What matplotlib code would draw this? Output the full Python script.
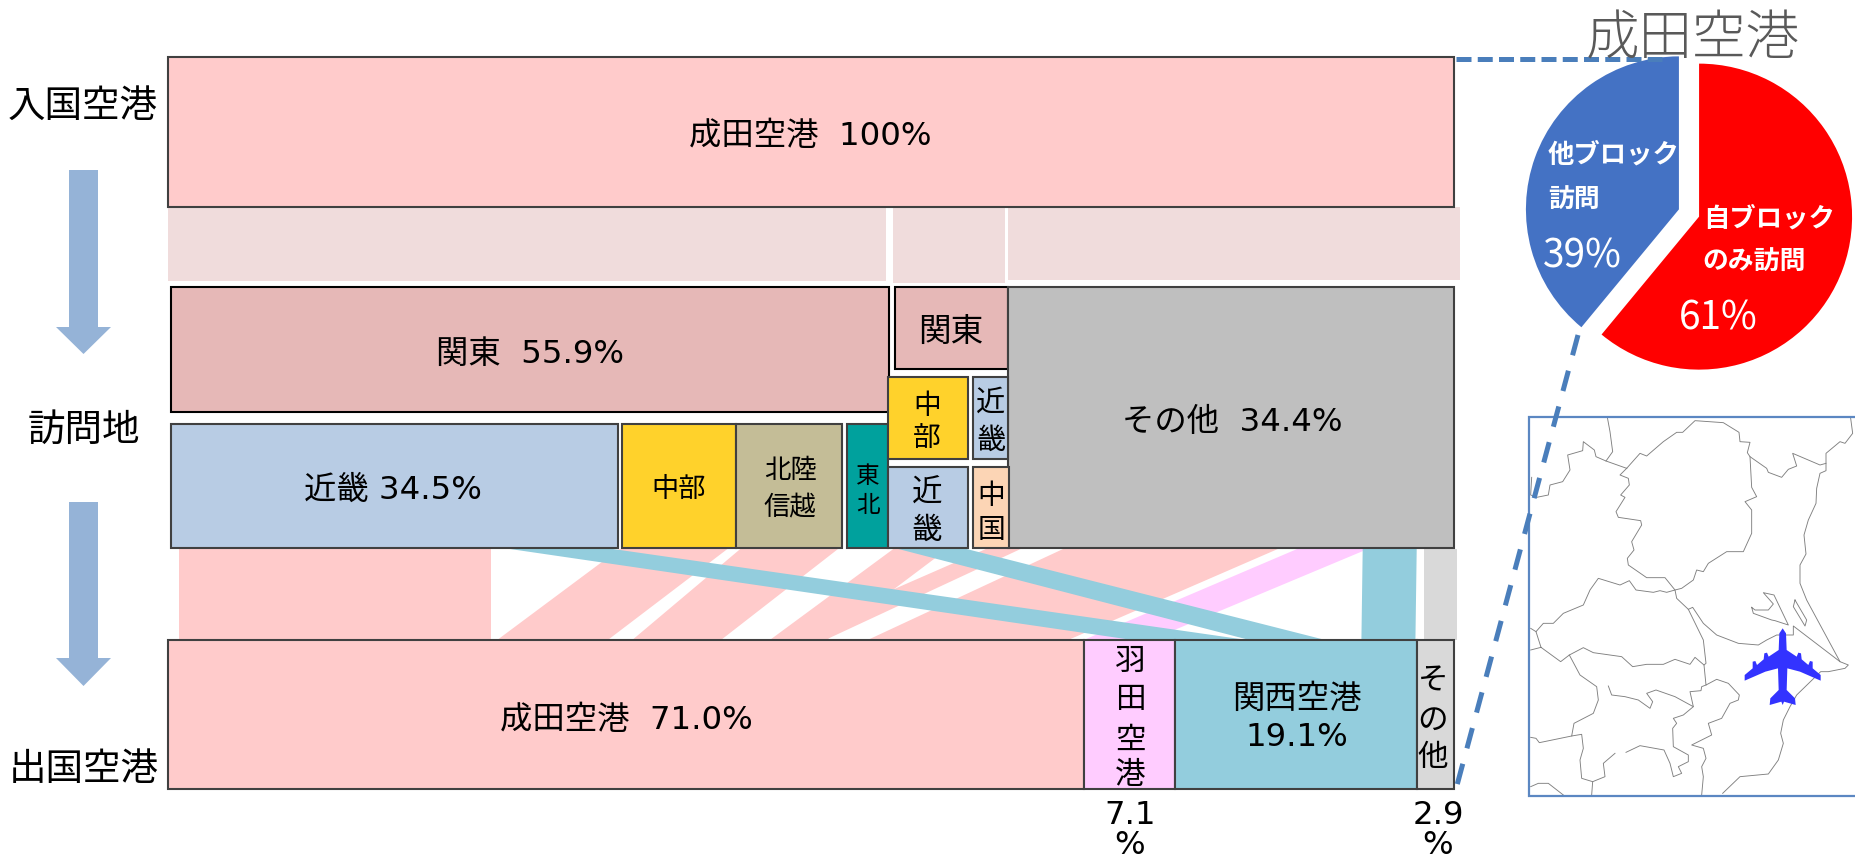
import matplotlib
matplotlib.use("Agg")
import matplotlib.pyplot as plt
from matplotlib.patches import Polygon

plt.rcParams['font.family'] = ['DejaVu Sans', 'Noto Sans CJK JP']
CJK = ['Noto Sans CJK JP', 'DejaVu Sans']

# ---------- data (percent of the whole width) ----------
entry_labels = ['成田空港  100%']
entry_values = [100.0]

visit_names = ['関東', '関東', 'その他', '近畿', '中部', '北陸信越', '東北', '中部', '近畿', '近畿', '中国']
visit_left = [0.2, 56.5, 65.3, 0.2, 35.3, 44.2, 52.8, 56.0, 62.6, 56.0, 62.6]
visit_width = [55.9, 8.8, 34.7, 34.8, 8.9, 8.2, 3.2, 6.2, 2.7, 6.2, 2.8]

exit_names = ['成田空港', '羽田空港', '関西空港', 'その他']
exit_values = [71.2, 7.1, 18.8, 2.9]

pale_left = [0.0, 56.4, 65.3]
pale_right = [55.8, 65.1, 100.5]

flow_top_l = [0.86, 35.1, 44.5, 56.4, 63.6, 69.6, 87.8, 92.9, 97.7, 26.6, 56.8]
flow_top_r = [25.1, 43.5, 52.1, 60.6, 66.3, 86.3, 93.3, 97.1, 100.2, 34.6, 62.1]
flow_bot_l = [0.86, 25.6, 36.1, 46.8, 47.4, 54.4, 71.2, 92.8, 97.7, 75.0, 84.1]
flow_bot_r = [25.1, 34.2, 43.0, 51.2, 51.1, 70.0, 76.4, 97.0, 100.2, 83.9, 90.0]
flow_kind = ['n', 'n', 'n', 'n', 'n', 'n', 'h', 'k', 'o', 'k', 'k']

pie_values = [61, 39]

# ---------- styles ----------
C_PINK = '#FFCBCB'
C_PALE = '#F0DCDC'
C_KANTO = '#E6B8B7'
C_KINKI = '#B8CCE4'
C_CHUBU = '#FFD22B'
C_HOKU = '#C4BD97'
C_TOHOKU = '#00A19D'
C_CHUGOKU = '#FCD5B5'
C_OTHER = '#BFBFBF'
C_HANEDA = '#FFCCFF'
C_KANSAI = '#93CDDD'
C_EXO = '#D9D9D9'
EDGE = '#404040'
ARROW = '#95B3D7'
DASH = '#4A7EBB'
flow_col = {'n': C_PINK, 'h': C_HANEDA, 'k': C_KANSAI, 'o': C_EXO}
visit_col = [C_KANTO, C_KANTO, C_OTHER, C_KINKI, C_CHUBU, C_HOKU, C_TOHOKU, C_CHUBU, C_KINKI, C_KINKI, C_CHUGOKU]
visit_y = [(287, 412), (287, 369), (287, 548), (424, 548), (424, 548), (424, 548), (424, 548),
           (377, 459), (377, 459), (467, 548), (467, 548)]
visit_edge = ['#000000', '#000000'] + [EDGE] * 9
exit_col = [C_PINK, C_HANEDA, C_KANSAI, C_EXO]

W, H = 1855, 860
X0, XS = 168.0, 12.86

fig = plt.figure(figsize=(W / 100, H / 100), dpi=100, facecolor='white')
bx = fig.add_axes([0, 0, 1, 1])
bx.set_xlim((0 - X0) / XS, (W - X0) / XS)
bx.set_ylim(H, 0)
bx.axis('off')
ax = fig.add_axes([0, 0, 1, 1], facecolor='none')
ax.set_xlim(0, W)
ax.set_ylim(H, 0)
ax.axis('off')

# pale bands
for l, r, b in zip(pale_left, pale_right, [281, 283, 280]):
    bx.barh((207 + b) / 2, r - l, left=l, height=b - 207, color=C_PALE, linewidth=0, zorder=1)

# flows
Y1, Y2 = 549, 640
for tl, tr, bl, br, k in zip(flow_top_l, flow_top_r, flow_bot_l, flow_bot_r, flow_kind):
    bx.fill([tl, tr, br, bl], [Y1, Y1, Y2, Y2], color=flow_col[k], linewidth=0, zorder=2)

# boxes
LW = 1.5
bx.barh(132, entry_values[0], left=0, height=150, color=C_PINK, edgecolor=EDGE, linewidth=LW, zorder=3)
for l, w, (t, b), c, e in zip(visit_left, visit_width, visit_y, visit_col, visit_edge):
    bx.barh((t + b) / 2, w, left=l, height=b - t, color=c, edgecolor=e, linewidth=LW, zorder=3)
left = 0.0
for v, c in zip(exit_values, exit_col):
    bx.barh(714.5, v, left=left, height=149, color=c, edgecolor=EDGE, linewidth=LW, zorder=3)
    left += v

# labels
def T(x, y, s, size=23.3, color='black', **kw):
    kw.setdefault('ha', 'center')
    ax.text(x, y + 3, s, fontsize=size, color=color, va='center', zorder=6, **kw)

T(83, 104, '入国空港', 27)
T(84, 428, '訪問地', 27)
T(84, 767, '出国空港', 27)
T(810, 134, entry_labels[0])
T(530, 351, '関東  55.9%')
T(393, 487, '近畿 34.5%')
T(679, 487, '中部', 19.6)
T(790, 468, '北陸', 19)
T(790, 505, '信越', 19)
T(868, 473, '東', 17)
T(868, 502, '北', 17)
T(951, 328, '関東', 23.5)
T(927, 403, '中', 20)
T(927, 436, '部', 20)
T(991, 400, '近', 21)
T(991, 438, '畿', 21)
T(927, 490, '近', 22)
T(927, 527, '畿', 22)
T(991, 493, '中', 20)
T(991, 527, '国', 20)
T(1232, 419, 'その他  34.4%')
T(626, 717, '成田空港  71.0%')
for y, s in zip([658, 697, 737, 773], '羽田空港'):
    T(1130, y, s, 22)
T(1297, 696, '関西空港')
T(1297, 735, '19.1%')
for y, s in zip([678, 717, 755], 'その他'):
    T(1433, y, s, 22)
T(1130, 813, '7.1')
T(1130, 842, '%')
T(1438, 813, '2.9')
T(1438, 842, '%')

# side arrows
for top, head, tip in [(170, 327, 354), (502, 658, 686)]:
    ax.add_patch(Polygon([(69, top), (98, top), (98, head), (111, head), (83.5, tip),
                          (56, head), (69, head)], closed=True, color=ARROW, lw=0, zorder=2))

# map (traced outline, in crop units)
map_lines = [
    [(322,52),(330,95),(338,155),(318,183),(288,170),(283,150),(250,125),(248,152),(203,165),(210,210),(188,245),(150,255),(145,285),(110,292),(92,285),(95,232)],
    [(318,183),(380,205)],
    [(380,205),(420,160),(440,168),(490,125),(530,97),(548,97),(585,62),(670,68),(717,97),(720,125),(750,127),(742,158),(750,170),(755,262),(770,290),(735,305),(755,330),(755,400),(730,455),(680,455),(625,490),(610,515),(590,510),(580,540),(545,565),(525,570),(495,533),(440,533),(385,495),(382,475),(402,450),(395,425),(425,375),(422,362),(355,352),(348,335),(375,292),(362,285),(388,255),(385,235),(360,225),(380,205)],
    [(750,170),(800,205),(805,217),(845,232),(865,208),(890,198),(878,160),(960,195),(978,190),(978,160),(1020,125),(1035,130),(1058,100),(1052,55)],
    [(978,190),(978,212),(960,220),(950,265),(948,310),(925,360),(912,405),(918,462),(900,495),(900,550),(920,600),(1020,785),(1045,795),(1035,805),(985,815),(962,815),(890,885),(870,920),(850,960),(842,1000),(850,1030),(835,1080),(805,1122),(720,1130),(668,1180)],
    [(92,750),(123,742),(108,695),(130,670),(160,670),(190,640),(250,615),(270,570),(295,535),(360,555),(388,542),(408,570),(460,577),(480,572),(500,577),(525,570),(530,595),(565,628),(610,720),(618,790),(612,795),(585,772),(570,793),(525,778),(490,793),(440,793),(398,800),(365,770),(280,758),(250,743),(208,765),(182,785),(123,742)],
    [(92,685),(108,695)],
    [(565,628),(578,622),(610,670),(650,705),(715,730),(775,735),(800,720),(830,705),(880,705),(880,678),(1020,785)],
    [(755,622),(765,630),(805,630),(820,612),(790,578),(822,585),(865,675),(825,662),(815,660),(760,640),(755,622)],
    [(885,600),(920,660),(915,678),(880,620),(885,600)],
    [(612,795),(618,855),(650,838),(685,850),(718,885),(715,900),(690,910),(665,955),(625,970),(635,1005),(575,1035),(610,1045),(618,1075),(605,1100),(610,1130),(605,1185)],
    [(618,855),(605,860),(603,872),(570,875),(580,920),(525,890),(468,870),(440,880),(458,905),(450,925),(415,900),(375,890),(335,885),(325,858)],
    [(580,920),(550,945),(520,955),(530,970),(518,985),(520,1040),(565,1065),(565,1085),(535,1100),(545,1120),(520,1130),(510,1090),(492,1050),(420,1037),(378,1057)],
    [(345,1060),(310,1090),(315,1130),(278,1145),(275,1185)],
    [(208,765),(240,825),(290,860),(295,900),(280,940),(222,970),(215,1008),(245,1003),(250,1045),(240,1080),(245,1135),(278,1145)],
    [(215,1008),(118,1028),(108,1015),(92,1012)],
    [(92,1160),(115,1150),(145,1150),(190,1185)],
]
plane_half = [(848,685),(858,700),(860,750),(890,770),(895,758),(903,760),(905,778),(925,795),(930,783),(938,785),(938,805),(962,825),(962,842),(900,815),(862,805),(860,870),(885,895),(887,915),(852,905),(848,915)]

def crop(p):
    return (1500 + p[0] / 3, 400 + p[1] / 3)

for line in map_lines:
    pts = [crop(p) for p in line]
    ax.plot([p[0] for p in pts], [p[1] for p in pts], color='#808080', lw=0.65, zorder=2,
            solid_joinstyle='round')
plane = plane_half + [(2 * 848 - x, y) for x, y in plane_half[::-1]]
ax.add_patch(Polygon([crop(p) for p in plane], closed=True, color='#3333FF', lw=0, zorder=4))
ax.plot([W + 5, 1529, 1529, W + 5], [417, 417, 796, 796], color='#5B87C2', lw=1.6, zorder=3,
        solid_joinstyle='miter')

# dashed connectors
ax.plot([1456, 1662], [59, 59], color=DASH, lw=3.6, linestyle=(0, (3.0, 1.25)),
        dash_capstyle='butt', zorder=5)
ax.plot([1578, 1456], [335, 789], color=DASH, lw=3.6, linestyle=(0, (4.2, 3.2)),
        dash_capstyle='butt', zorder=5)

# pie
R = 153.0
cx, cy = 1689.0, 213.0
half = R * 1.25
pax = fig.add_axes([(cx - half) / W, 1 - (cy + half) / H, 2 * half / W, 2 * half / H], facecolor='none')
pax.pie(pie_values, colors=['#FF0000', '#4472C4'], startangle=90, counterclock=False,
        explode=[0.07, 0.07], radius=1.0, frame=False)
pax.set_xlim(-1.25, 1.25)
pax.set_ylim(-1.25, 1.25)
pax.axis('off')

T(1693, 37, '成田空港', 38.5, color='#595959', fontweight='light', family=CJK)
T(1548, 152, '他ブロック', 19, color='white', ha='left', fontweight='bold', family=CJK)
T(1548, 197, '訪問', 18.6, color='white', ha='left', fontweight='bold', family=CJK)
T(1582, 253, '39%', 28, color='white', family=CJK)
T(1703, 216, '自ブロック', 19, color='white', ha='left', fontweight='bold', family=CJK)
T(1702, 259, 'のみ訪問', 18.6, color='white', ha='left', fontweight='bold', family=CJK)
T(1718, 315, '61%', 28, color='white', family=CJK)
ax.set_zorder(3)
pax.set_zorder(2)
bx.set_zorder(0)
fig.savefig('out.png', dpi=100, facecolor='white')
